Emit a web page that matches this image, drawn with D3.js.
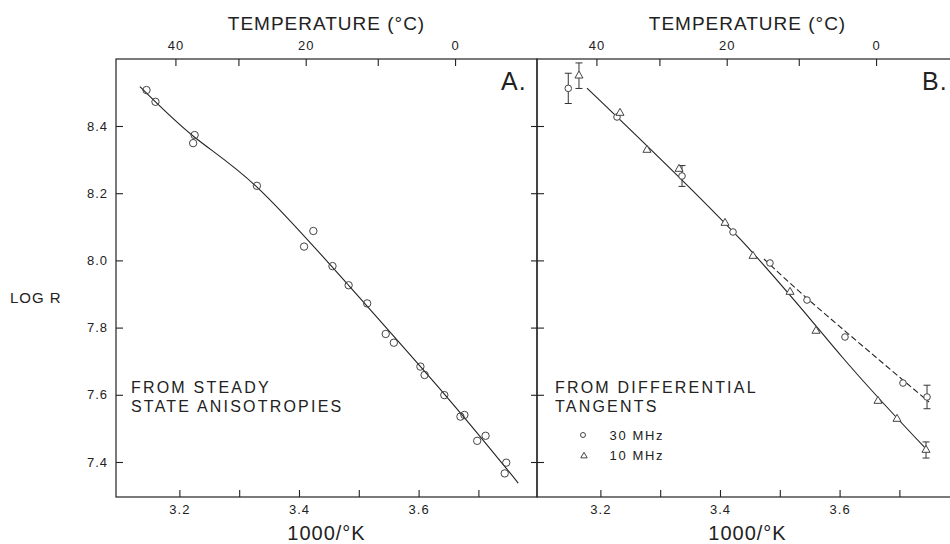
<!DOCTYPE html>
<html>
<head>
<meta charset="utf-8">
<script src="https://cdn.jsdelivr.net/npm/d3@7"></script>
<style>
    body { margin: 0; background: #fff; }
    svg { display: block; font-family: 'Liberation Sans', Arial, sans-serif; }
    .tick text { font-size: 13px; fill: #222; letter-spacing: 1px; }
    .tick line { stroke: #222; stroke-width: 1.1; }
    .frame { fill: none; stroke: #222; stroke-width: 1.2; }
    .fit { fill: none; stroke: #222; stroke-width: 1.1; }
    .pt { fill: none; stroke: #444; stroke-width: 1; }
    .err { stroke: #333; stroke-width: 1; }
    .lab { fill: #222; letter-spacing: 1.5px; }
</style>
</head>
<body>
<div id="chart"></div>
<script>
// axis ticks
const tempTicks = [40, 30, 20, 10, 0];
const tempLabels = [40, 20, 0];
const xTicks = [3.2, 3.3, 3.4, 3.5, 3.6, 3.7];
const xLabels = [3.2, 3.4, 3.6];
const yTicks = [7.4, 7.6, 7.8, 8.0, 8.2, 8.4];

// panel A : steady state anisotropies
const aX = [3.145, 3.160, 3.2255, 3.223, 3.3296, 3.424, 3.4085, 3.456, 3.483, 3.514, 3.545, 3.5586,
    3.603, 3.610, 3.643, 3.670, 3.6766, 3.698, 3.712, 3.7466, 3.744];
const aY = [8.507, 8.472, 8.373, 8.349, 8.222, 8.0875, 8.041, 7.983, 7.926, 7.872, 7.781, 7.755,
    7.684, 7.659, 7.599, 7.535, 7.540, 7.463, 7.478, 7.398, 7.366];
const lineAX = [3.134, 3.2244, 3.3293, 3.4798, 3.647, 3.7667];
const lineAY = [8.517, 8.368, 8.219, 7.932, 7.594, 7.337];

// panel B : differential tangents
const b30X = [3.1463, 3.2278, 3.3365, 3.4218, 3.4836, 3.5455, 3.609, 3.706, 3.7462];
const b30Y = [8.512, 8.4268, 8.2512, 8.0845, 7.9923, 7.882, 7.772, 7.635, 7.5935];
const b30Err = [0.045, 0, 0.031, 0, 0, 0, 0, 0, 0.035];
const b10X = [3.1642, 3.2328, 3.2779, 3.3315, 3.4084, 3.4552, 3.5171, 3.5605, 3.6642, 3.696, 3.7445];
const b10Y = [8.5497, 8.4387, 8.3286, 8.272, 8.1113, 8.0131, 7.906, 7.790, 7.5815, 7.528, 7.4357];
const b10Err = [0.038, 0, 0, 0, 0, 0, 0, 0, 0, 0, 0.024];
const lineBSolidX = [3.1776, 3.4335, 3.6057, 3.7462];
const lineBSolidY = [8.513, 8.0637, 7.7095, 7.4357];
const lineBDashX = [3.4736, 3.5622, 3.7495];
const lineBDashY = [8.0042, 7.8613, 7.5786];

const W = 950, H = 544;
const marginTop = 59, panelW = 421, panelH = 438;

const svg = d3.select('#chart').append('svg')
    .attr('width', W)
    .attr('height', H);

const x = d3.scaleLinear().domain([3.094, 3.798]).range([0, panelW]);
const y = d3.scaleLinear().domain([7.2958, 8.5994]).range([panelH, 0]);
const kelvin = c => 1000 / (c + 273.15);

const zip = (xs, ys) => xs.map((v, i) => [v, ys[i]]);
const fitLine = d3.line().x(d => x(d[0])).y(d => y(d[1])).curve(d3.curveNatural);

function drawPanel(left, name, leftLabels) {
    let g = svg.append('g').attr('transform', 'translate(' + left + ',' + marginTop + ')');

    g.append('rect').attr('class', 'frame').attr('width', panelW).attr('height', panelH);

    let bottom = g.append('g').attr('transform', 'translate(0,' + panelH + ')')
        .call(d3.axisBottom(x).tickValues(xTicks).tickSize(-7).tickPadding(8)
            .tickFormat(d => xLabels.includes(d) ? d3.format('.1f')(d) : ''));

    let topAxis = g.append('g')
        .call(d3.axisTop(x).tickValues(tempTicks.map(kelvin)).tickSize(-7).tickPadding(9)
            .tickFormat(v => {
                let c = Math.round(1000 / v - 273.15);
                return tempLabels.includes(c) ? c : '';
            }));

    let leftAxis = g.append('g')
        .call(d3.axisLeft(y).tickValues(yTicks).tickSize(-7).tickPadding(8)
            .tickFormat(d => leftLabels ? d3.format('.1f')(d) : ''));

    let rightAxis = g.append('g').attr('transform', 'translate(' + panelW + ',0)')
        .call(d3.axisRight(y).tickValues(yTicks).tickSize(-6).tickFormat(''));

    [bottom, topAxis, leftAxis, rightAxis].forEach(a => a.select('.domain').remove());

    svg.append('text')
        .attr('x', left + panelW / 2).attr('y', 30)
        .attr('text-anchor', 'middle')
        .attr('class', 'lab')
        .style('font-size', '19px').style('letter-spacing', '1px')
        .text('TEMPERATURE (°C)');

    svg.append('text')
        .attr('x', left + panelW / 2).attr('y', 540)
        .attr('text-anchor', 'middle')
        .attr('class', 'lab')
        .style('font-size', '20px').style('letter-spacing', '1px')
        .text('1000/°K');

    g.append('text')
        .attr('x', panelW - 36).attr('y', 31)
        .attr('class', 'lab')
        .style('font-size', '25px').style('letter-spacing', '1px')
        .text(name);

    return g;
}

// panel A
let gA = drawPanel(116, 'A.', true);

gA.append('path').attr('class', 'fit').attr('d', fitLine(zip(lineAX, lineAY)));

gA.selectAll('.pt')
    .data(zip(aX, aY))
    .enter().append('circle')
    .attr('class', 'pt')
    .attr('cx', d => x(d[0]))
    .attr('cy', d => y(d[1]))
    .attr('r', 3.7);

gA.append('text').attr('class', 'lab').attr('x', 15).attr('y', 334)
    .style('font-size', '16px').style('letter-spacing', '2.2px').text('FROM STEADY');
gA.append('text').attr('class', 'lab').attr('x', 15).attr('y', 353)
    .style('font-size', '16px').style('letter-spacing', '2.2px').text('STATE ANISOTROPIES');

svg.append('text').attr('class', 'lab').attr('x', 10).attr('y', 303)
    .style('font-size', '15px').style('letter-spacing', '1px').text('LOG R');

// panel B
let gB = drawPanel(537, 'B.', false);

gB.append('path').attr('class', 'fit').attr('d', fitLine(zip(lineBSolidX, lineBSolidY)));
gB.append('path').attr('class', 'fit').attr('stroke-dasharray', '6,3')
    .attr('d', fitLine(zip(lineBDashX, lineBDashY)));

function errorBars(g, xs, ys, errs) {
    xs.forEach((v, i) => {
        if (!errs[i]) return;
        let cx = x(v);
        let y1 = y(ys[i] + errs[i]), y2 = y(ys[i] - errs[i]);
        g.append('line').attr('class', 'err').attr('x1', cx).attr('x2', cx).attr('y1', y1).attr('y2', y2);
        [y1, y2].forEach(yy => {
            g.append('line').attr('class', 'err')
                .attr('x1', cx - 3.5).attr('x2', cx + 3.5).attr('y1', yy).attr('y2', yy);
        });
    });
}

errorBars(gB, b30X, b30Y, b30Err);
errorBars(gB, b10X, b10Y, b10Err);

gB.selectAll('.c30')
    .data(zip(b30X, b30Y))
    .enter().append('circle')
    .attr('class', 'pt c30')
    .attr('cx', d => x(d[0]))
    .attr('cy', d => y(d[1]))
    .attr('r', 3.3)
    .style('fill', '#fff');

const tri = d3.symbol().type(d3.symbolTriangle).size(28);
gB.selectAll('.t10')
    .data(zip(b10X, b10Y))
    .enter().append('path')
    .attr('class', 'pt t10')
    .attr('d', tri)
    .attr('transform', d => 'translate(' + x(d[0]) + ',' + y(d[1]) + ')')
    .style('fill', '#fff');

gB.append('text').attr('class', 'lab').attr('x', 18).attr('y', 334)
    .style('font-size', '16px').style('letter-spacing', '2.2px').text('FROM DIFFERENTIAL');
gB.append('text').attr('class', 'lab').attr('x', 18).attr('y', 353)
    .style('font-size', '16px').style('letter-spacing', '2.2px').text('TANGENTS');

// legend
gB.append('circle').attr('class', 'pt').attr('cx', 46).attr('cy', 376).attr('r', 2.5);
gB.append('path').attr('class', 'pt').attr('d', d3.symbol().type(d3.symbolTriangle).size(18))
    .attr('transform', 'translate(47,397)');
gB.append('text').attr('class', 'lab').attr('x', 127).attr('y', 381).attr('text-anchor', 'end')
    .style('font-size', '13px').style('letter-spacing', '1.6px').text('30 MHz');
gB.append('text').attr('class', 'lab').attr('x', 127).attr('y', 401).attr('text-anchor', 'end')
    .style('font-size', '13px').style('letter-spacing', '1.6px').text('10 MHz');
</script>
</body>
</html>
